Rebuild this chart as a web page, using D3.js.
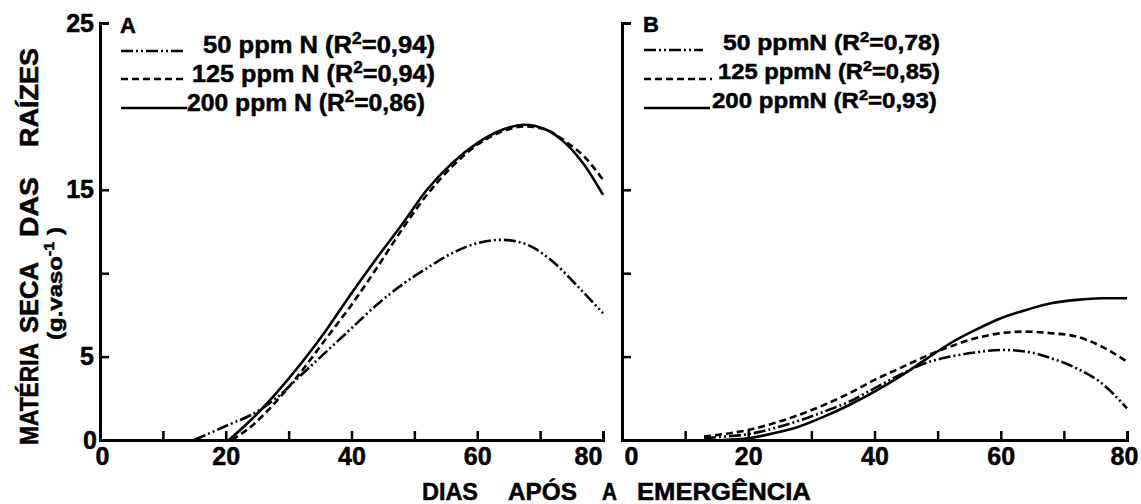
<!DOCTYPE html>
<html><head><meta charset="utf-8">
<script src="https://cdn.jsdelivr.net/npm/d3@7"></script>
<style>
body{margin:0;background:#fff}
svg{display:block}
text{font-family:"Liberation Sans",Arial,sans-serif;font-weight:bold;fill:#000;stroke:#000;stroke-width:0.5px}
</style>
</head><body>
<svg id="chart" width="1141" height="504"></svg>
<script>
// ---------- data ----------
const xTicks = [0,10,20,30,40,50,60,70,80];
const xTickLabels = ["0","","20","","40","","60","","80"];
const yTicks = [0,5,10,15,25];
const yTickLabelsA = ["0","5","","15","25"];

// Panel A
const daysA50  = [15,18,21,24,28,32,36,40,44,48,52,56,60,64,68,72,76,80];
const valsA50  = [0,0.5,1.0,1.5,2.5,3.9,5.3,6.7,8.1,9.3,10.3,11.2,11.8,12.0,11.7,10.7,9.2,7.6];
const daysA125 = [21,24,28,32,36,40,44,48,52,56,60,64,67.5,71,74,77,80];
const valsA125 = [0,0.8,2.3,4.1,6.1,8.1,10.3,12.6,14.7,16.4,17.7,18.5,18.8,18.6,17.9,17.0,15.6];
const daysA200 = [20.5,24,28,32,36,40,44,48,52,56,60,64,67.5,71,74,77,80];
const valsA200 = [0,1.2,2.8,4.6,6.6,8.8,10.9,12.9,15.0,16.6,17.8,18.6,18.9,18.6,17.8,16.5,14.7];

// Panel B
const daysB50  = [13,16,20,24,28,32,36,40,44,48,52,56,60,64,68,72,76,80];
const valsB50  = [0.1,0.2,0.35,0.7,1.15,1.7,2.3,3.1,3.9,4.6,5.0,5.25,5.4,5.3,4.9,4.3,3.4,1.9];
const daysB125 = [13,16,20,24,28,32,36,40,44,48,52,56,60,64,68,72,76,80];
const valsB125 = [0.2,0.35,0.6,1.0,1.5,2.1,2.8,3.6,4.3,5.0,5.6,6.1,6.4,6.5,6.4,6.2,5.6,4.7];
const daysB200 = [16,20,24,28,32,36,40,44,48,52,56,60,64,68,72,76,80];
const valsB200 = [0,0.1,0.4,0.8,1.4,2.1,2.9,3.8,4.8,5.8,6.6,7.3,7.8,8.2,8.4,8.5,8.5];

const legendA = ["50 ppm N (R", "125 ppm N (R", "200 ppm N (R"];
const legendAr2 = ["=0,94)", "=0,94)", "=0,86)"];
const legendB = ["50 ppmN (R", "125 ppmN (R", "200 ppmN (R"];
const legendBr2 = ["=0,78)", "=0,85)", "=0,93)"];
const yTitleWords = ["MATÉRIA","SECA","DAS","RAÍZES"];
const yUnit = "(g.vaso";
const xTitleWords = ["DIAS","APÓS","A","EMERGÊNCIA"];

// ---------- drawing ----------
const svg = d3.select("#chart");
const dashes = {"50":"12,3,2,3,2,3", "125":"7,4", "200":null};

const y = d3.scaleLinear().domain([0,25]).range([440,23]);
const xA = d3.scaleLinear().domain([0,80]).range([100,603]);
const xB = d3.scaleLinear().domain([0,80]).range([622,1127]);

function fitText(t, x, yb, width, rot){
  const w = t.node().getComputedTextLength();
  const s = width / w;
  t.attr("transform", rot ? `translate(${x},${yb}) rotate(-90) scale(${s},1)`
                          : `translate(${x},${yb}) scale(${s},1)`);
}

function panel(x, series, tickLabelsY, labelShift){
  const g = svg.append("g");
  const ax = g.append("g").attr("transform","translate(0,440)")
    .call(d3.axisBottom(x).tickValues(xTicks).tickFormat((d,i)=>xTickLabels[i])
      .tickSizeInner(-9).tickSizeOuter(-9).tickPadding(7));
  ax.select(".domain").attr("stroke","#000").attr("stroke-width",3).attr("fill","none");
  ax.selectAll(".tick line").attr("stroke","#000").attr("stroke-width",2.5);
  ax.selectAll(".tick text").attr("font-size",25).attr("fill","#000")
    .attr("font-family","Liberation Sans, Arial, sans-serif").attr("font-weight","bold")
    .attr("dy","0.71em").attr("dx",(d)=>labelShift[d]||0);
  const ay = g.append("g").attr("transform",`translate(${x(0)},0)`)
    .call(d3.axisLeft(y).tickValues(yTicks).tickFormat((d,i)=>tickLabelsY[i])
      .tickSizeInner(-9).tickSizeOuter(-9).tickPadding(6));
  ay.select(".domain").attr("stroke","#000").attr("stroke-width",3).attr("fill","none");
  ay.selectAll(".tick line").attr("stroke","#000").attr("stroke-width",2.5);
  ay.selectAll(".tick text").attr("font-size",25).attr("fill","#000")
    .attr("font-family","Liberation Sans, Arial, sans-serif").attr("font-weight","bold")
    .attr("dx",(d)=>d===0?3:0);
  const line = d3.line().x(d=>x(d[0])).y(d=>y(d[1])).curve(d3.curveMonotoneX);
  series.forEach(s=>{
    const pts = s.days.map((d,i)=>[d, s.vals[i]]);
    g.append("path").datum(pts).attr("d",line)
      .attr("fill","none").attr("stroke","#000").attr("stroke-width",2.6)
      .attr("stroke-dasharray",dashes[s.key]).attr("stroke-linecap","butt");
  });
  return g;
}

panel(xA, [
  {key:"50",days:daysA50,vals:valsA50},
  {key:"125",days:daysA125,vals:valsA125},
  {key:"200",days:daysA200,vals:valsA200}
], yTickLabelsA, {0:2, 80:-15});

panel(xB, [
  {key:"50",days:daysB50,vals:valsB50},
  {key:"125",days:daysB125,vals:valsB125},
  {key:"200",days:daysB200,vals:valsB200}
], ["","","","",""], {0:9, 80:-3});

// ---------- legends ----------
const keys = ["50","125","200"];
function legend(letter, lx, letterY, lineX0, lineX1, lineY, txtX0, txtX1, baselines, labels, r2s, fs){
  svg.append("text").attr("x",lx).attr("y",letterY).attr("font-size",22).text(letter);
  keys.forEach((k,i)=>{
    svg.append("line").attr("x1",lineX0).attr("x2",lineX1[i]).attr("y1",lineY[i]).attr("y2",lineY[i])
      .attr("stroke","#000").attr("stroke-width",2.4).attr("stroke-dasharray",dashes[k]);
    const t = svg.append("text").attr("font-size",fs);
    t.append("tspan").text(labels[i]);
    t.append("tspan").attr("font-size",fs*0.68).attr("dy",-fs*0.36).text("2");
    t.append("tspan").attr("dy",fs*0.36).text(r2s[i]);
    fitText(t, txtX0[i], baselines[i], txtX1[i]-txtX0[i], false);
  });
}
legend("A", 120, 33, 121, [183,183,187], [51,79,108], [203,192,187], [435,435,425], [53,82,111], legendA, legendAr2, 24);
legend("B", 643, 32, 644, [703,712,710], [50,79,108], [723,718,712], [940,940,937], [50,79,108], legendB, legendBr2, 22);

// ---------- axis titles ----------
const yWordSpans = [[445,343],[333,262],[237,177],[147,48]];
yTitleWords.forEach((w,i)=>{
  const t = svg.append("text").attr("font-size",25).text(w);
  fitText(t, 38, yWordSpans[i][0], yWordSpans[i][0]-yWordSpans[i][1], true);
});
{
  const t = svg.append("text").attr("font-size",21);
  t.append("tspan").text(yUnit);
  t.append("tspan").attr("font-size",14).attr("dy",-8).text("-1");
  t.append("tspan").attr("dy",8).text(" )");
  fitText(t, 62, 340, 113, true);
}
const xWordSpans = [[422,478],[508,577],[602,617],[637,811]];
xTitleWords.forEach((w,i)=>{
  const t = svg.append("text").attr("font-size",24).text(w);
  fitText(t, xWordSpans[i][0], 500, xWordSpans[i][1]-xWordSpans[i][0], false);
});
</script>
</body></html>
